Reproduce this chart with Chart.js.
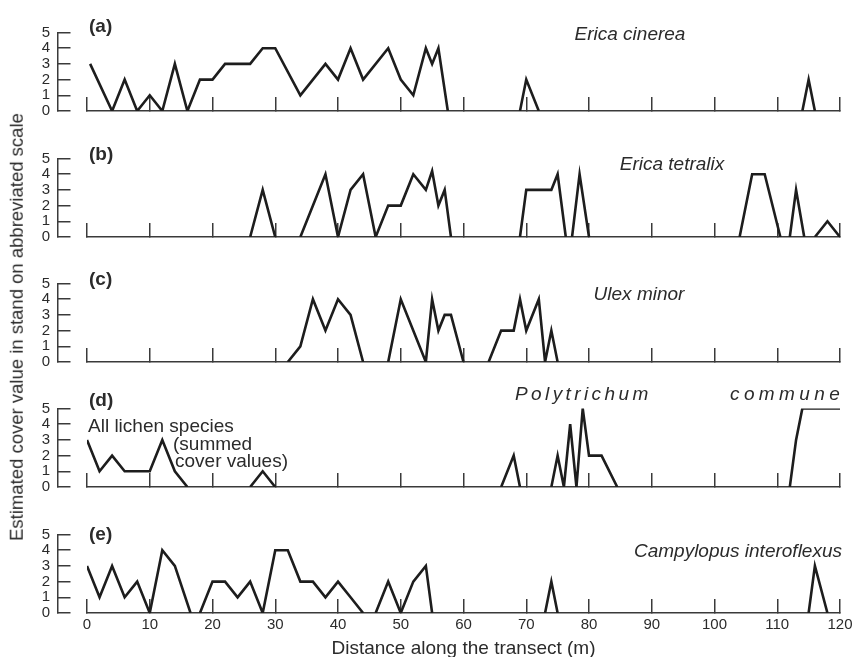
<!DOCTYPE html>
<html>
<head>
<meta charset="utf-8">
<script src="https://cdn.jsdelivr.net/npm/chart.js@4"></script>
<style>
  body { margin: 0; background: #fff; }
  #wrap { position: relative; width: 853px; height: 657px; overflow: hidden;
          font-family: "Liberation Sans", Arial, sans-serif; color: #2b2b2b; }
  canvas { position: absolute; left: 0; }
  .t { position: absolute; white-space: nowrap; font-size: 19px; line-height: 1; }
  .c { transform: translate(-50%, -50%); }
  .l { transform: translateY(-50%); }
  .r { transform: translate(-100%, -50%); }
  .b { font-weight: bold; }
  .i { font-style: italic; }
</style>
</head>
<body>
<div id="wrap">
  <canvas id="pa" width="853" height="115" style="top:11px"></canvas>
  <canvas id="pb" width="853" height="115" style="top:137px"></canvas>
  <canvas id="pc" width="853" height="115" style="top:262px"></canvas>
  <canvas id="pd" width="853" height="115" style="top:387px"></canvas>
  <canvas id="pe" width="853" height="144" style="top:513px"></canvas>

  <div class="t l b" style="left:89px;top:25px">(a)</div>
  <div class="t l b" style="left:89px;top:153px">(b)</div>
  <div class="t l b" style="left:89px;top:278px">(c)</div>
  <div class="t l b" style="left:89px;top:399px">(d)</div>
  <div class="t l b" style="left:89px;top:533px">(e)</div>

  <div class="t c i" style="left:630px;top:33px">Erica cinerea</div>
  <div class="t c i" style="left:672px;top:163px">Erica tetralix</div>
  <div class="t c i" style="left:639px;top:293px">Ulex minor</div>
  <div class="t l i" style="left:515px;top:393px;letter-spacing:3.4px">Polytrichum</div>
  <div class="t l i" style="left:730px;top:393px;letter-spacing:4.4px">commune</div>
  <div class="t r i" style="left:842px;top:550px">Campylopus interoflexus</div>

  <div class="t l" style="left:88px;top:425px">All lichen species</div>
  <div class="t l" style="left:173px;top:443px">(summed</div>
  <div class="t l" style="left:175px;top:460px">cover values)</div>

  <div class="t" style="left:17px;top:327px;transform:translate(-50%,-50%) rotate(-90deg);font-size:18.5px">Estimated cover value in stand on abbreviated scale</div>
</div>

<script>
// distances (m) and cover values; null breaks the line
// (a) Erica cinerea
const cinereaX = [0.5, 4, 6, 8, 10, 12, 14, 16, 18, 20, 22, 26, 28, 30, 34, 38, 40, 42, 44, 48, 50, 52, 54, 55, 56, 57.5, null, 69, 70, 72, null, 114, 115, 116];
const cinereaY = [3, 0, 2, 0, 1, 0, 3, 0, 2, 2, 3, 3, 4, 4, 1, 3, 2, 4, 2, 4, 2, 1, 4, 3, 4, 0, null, 0, 2, 0, null, 0, 2, 0];

// (b) Erica tetralix
const tetralixX = [26, 28, 30, null, 34, 38, 40, 42, 44, 46, 48, 50, 52, 54, 55, 56, 57, 58, null, 69, 70, 74, 75, 76.3, null, 77.3, 78.5, 80, null, 104, 106, 108, 110.5, null, 112, 113, 114.3, null, 116, 118, 120];
const tetralixY = [0, 3, 0, null, 0, 4, 0, 3, 4, 0, 2, 2, 4, 3, 4.2, 2, 3, 0, null, 0, 3, 3, 4, 0, null, 0, 4, 0, null, 0, 4, 4, 0, null, 0, 3, 0, null, 0, 1, 0];

// (c) Ulex minor
const ulexX = [32, 34, 36, 38, 40, 42, 44, null, 48, 50, 54, 55, 56, 57, 58, 60, null, 64, 66, 68, 69, 70, 72, 73, 74, 75];
const ulexY = [0, 1, 4, 2, 4, 3, 0, null, 0, 4, 0, 4, 2, 3, 3, 0, null, 0, 2, 2, 4, 2, 4, 0, 2, 0];

// (d) all lichen species (summed) and Polytrichum commune
const lichenX = [0, 2, 4, 6, 10, 12, 14, 16, null, 26, 28, 30];
const lichenY = [3, 1, 2, 1, 1, 3, 1, 0, null, 0, 1, 0];
const polyX = [66, 68, 69, null, 74, 75, 76, 77, 78, 79, 80, 82, 84.5, null, 112, 113, 114, 120];
const polyY = [0, 2, 0, null, 0, 2, 0, 4, 0, 5, 2, 2, 0, null, 0, 3, 5, 5];

// (e) Campylopus interoflexus
const campyX = [0, 2, 4, 6, 8, 10, 12, 14, 16.5, null, 18, 20, 22, 24, 26, 28, 30, 32, 34, 36, 38, 40, 42, 44, null, 46, 48, 50, 52, 54, 55, null, 73, 74, 75, null, 115, 116, 118];
const campyY = [3, 1, 3, 1, 2, 0, 4, 3, 0, null, 0, 2, 2, 1, 2, 0, 4, 4, 2, 2, 1, 2, 1, 0, null, 0, 2, 0, 2, 3, 0, null, 0, 2, 0, null, 0, 3, 0];

const xTitle = 'Distance along the transect (m)';

const FONT = '"Liberation Sans", Arial, sans-serif';
const LINE = '#1d1d1d';
const AXIS = '#3a3a3a';
const TXT = '#2b2b2b';

// wanted plot area inside every canvas (x: 0..120, y: 5..0)
const AREA = { left: 87, right: 840, top: 21.5, bottom: 100 };

function points(xs, ys) {
    return xs.map((x, i) => ({ x: x, y: ys[i] }));
}

// nudge the layout padding until the plot area sits where it should
function fitArea(chart) {
    for (let k = 0; k < 4; k++) {
        const a = chart.chartArea;
        const p = chart.options.layout.padding;
        p.left += AREA.left - a.left;
        p.right += a.right - AREA.right;
        p.top += AREA.top - a.top;
        p.bottom += a.bottom - AREA.bottom;
        chart.update();
    }
}

function makePanel(id, series, last) {
    const datasets = series.map(s => ({
        data: points(s[0], s[1]),
        borderColor: LINE,
        borderWidth: 2.6,
        pointRadius: 0,
        tension: 0,
        fill: false,
        spanGaps: false
    }));

    const chart = new Chart(document.getElementById(id), {
        type: 'line',
        data: { datasets: datasets },
        options: {
            responsive: false,
            animation: false,
            layout: { padding: { left: 87, right: 13, top: 21.5, bottom: last ? 0 : 15 } },
            plugins: { legend: { display: false }, tooltip: { enabled: false } },
            scales: {
                x: {
                    type: 'linear',
                    position: 'bottom',
                    min: 0,
                    max: 120,
                    afterFit: (scale) => {
                        scale.height = last ? 44 : 0;
                        // labels sit under the upward ticks, so no side margin is needed
                        scale.paddingLeft = 0;
                        scale.paddingRight = 0;
                    },
                    border: { display: true, color: AXIS, width: 1.5 },
                    grid: { drawOnChartArea: false, drawTicks: true, tickLength: -14, color: AXIS, lineWidth: 1.5 },
                    ticks: {
                        display: last,
                        stepSize: 10,
                        autoSkip: false,
                        maxRotation: 0,
                        padding: 17,
                        color: TXT,
                        font: { family: FONT, size: 15 }
                    },
                    title: {
                        display: last,
                        text: xTitle,
                        color: TXT,
                        font: { family: FONT, size: 19, lineHeight: 1 },
                        padding: { top: 0, bottom: -1 }
                    }
                },
                y: {
                    type: 'linear',
                    position: { x: -4.67 },
                    min: 0,
                    max: 5,
                    border: { display: true, color: AXIS, width: 1.5 },
                    grid: { drawOnChartArea: false, drawTicks: true, tickLength: -13.5, color: AXIS, lineWidth: 1.5 },
                    ticks: {
                        stepSize: 1,
                        autoSkip: false,
                        color: TXT,
                        font: { family: FONT, size: 15 },
                        callback: (v) => v + '\u2002'
                    }
                }
            }
        }
    });
    fitArea(chart);
    return chart;
}

makePanel('pa', [[cinereaX, cinereaY]], false);
makePanel('pb', [[tetralixX, tetralixY]], false);
makePanel('pc', [[ulexX, ulexY]], false);
makePanel('pd', [[lichenX, lichenY], [polyX, polyY]], false);
makePanel('pe', [[campyX, campyY]], true);
</script>
</body>
</html>
